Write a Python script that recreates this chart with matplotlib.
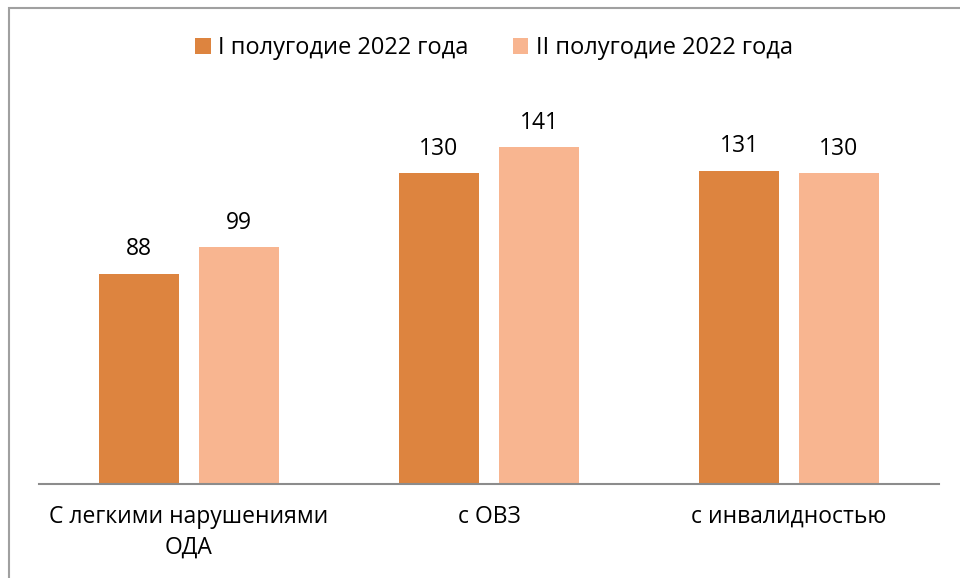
import matplotlib
matplotlib.use("Agg")
import matplotlib.pyplot as plt
from matplotlib.patches import Rectangle
import numpy as np

categories = ["С легкими нарушениями\nОДА", "с ОВЗ", "с инвалидностью"]
series_names = ["I полугодие 2022 года", "II полугодие 2022 года"]
h1 = [88, 130, 131]
h2 = [99, 141, 130]
colors = ["#DD843F", "#F8B590"]

plt.rcParams['font.family'] = ['Open Sans', 'DejaVu Sans']

W, H = 960, 578
fig = plt.figure(figsize=(W/100, H/100), dpi=100)

# outer frame (clipped on right and bottom)
fig.patches.append(Rectangle((9/W, -0.05), 1.2, 1 - 8/H + 0.05, transform=fig.transFigure,
                             fill=False, edgecolor="#A0A0A0", linewidth=1.5))

ax_left, ax_right = 39, 939
ax_bottom, ax_top = 484, 101.6
ax = fig.add_axes([ax_left/W, 1 - ax_bottom/H, (ax_right-ax_left)/W, (ax_bottom-ax_top)/H])

x = np.arange(len(categories))
bw = 80/300
off = 50/300
b1 = ax.bar(x - off, h1, bw, color=colors[0], label=series_names[0])
b2 = ax.bar(x + off, h2, bw, color=colors[1], label=series_names[1])
for bars, vals in ((b1, h1), (b2, h2)):
    for r, v in zip(bars, vals):
        ax.annotate(str(v), (r.get_x() + r.get_width()/2, v), xytext=(0, 9),
                    textcoords="offset points", ha="center", va="bottom", fontsize=16.5)

ax.set_xlim(-0.5, 2.5)
ax.set_ylim(0, 160)
for s in ("top", "right", "left"):
    ax.spines[s].set_visible(False)
ax.spines["bottom"].set_color("#8C8C8C")
ax.spines["bottom"].set_linewidth(1.5)
ax.set_yticks([])
ax.set_xticks(x)
ax.set_xticklabels(categories, fontsize=16.5, linespacing=1.4)
ax.tick_params(axis="x", length=0, pad=15)

leg = fig.legend(loc="center", bbox_to_anchor=(494/W, 1 - 48/H), ncol=2, frameon=False,
                 fontsize=17, handlelength=0.65, handleheight=0.65, handletextpad=0.3,
                 columnspacing=1.9)

fig.savefig("out.png", dpi=100)
